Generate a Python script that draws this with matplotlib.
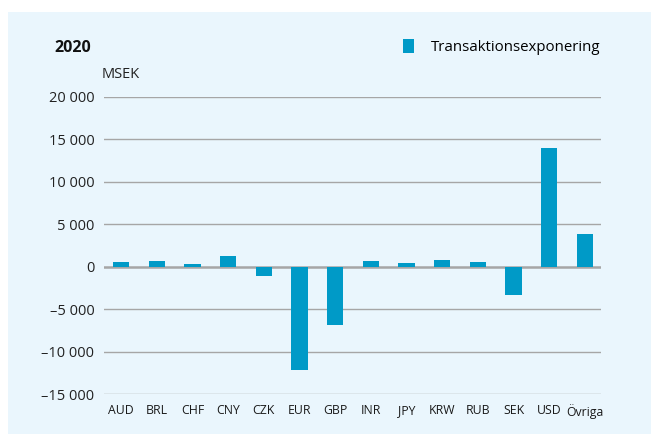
import matplotlib.pyplot as plt
from matplotlib.patches import Rectangle

# Transaktionsexponering per valuta 2020, MSEK
currencies = ['AUD', 'BRL', 'CHF', 'CNY', 'CZK', 'EUR', 'GBP', 'INR', 'JPY',
              'KRW', 'RUB', 'SEK', 'USD', 'Övriga']
exposure = [500, 650, 350, 1300, -1100, -12200, -6900, 650, 400,
            800, 550, -3300, 14000, 3850]
yticks = [-15000, -10000, -5000, 0, 5000, 10000, 15000, 20000]

bar_color = '#009ac7'
panel_color = '#eaf6fd'

plt.rcParams['font.family'] = ['Open Sans', 'DejaVu Sans']

fig = plt.figure(figsize=(6.51, 4.34), dpi=100)
fig.patches.append(Rectangle((8 / 651, 0), 1, 1 - 12 / 434, transform=fig.transFigure,
                             facecolor=panel_color, edgecolor='none', zorder=-10))

ax = fig.add_axes([104 / 651, 1 - 394 / 434, 497 / 651, 297 / 434])
ax.set_facecolor('none')

x = range(len(currencies))
ax.bar(x, exposure, width=0.46, color=bar_color, zorder=3, label='Transaktionsexponering')

ax.set_ylim(-15000, 20000)
ax.set_xlim(-0.48, len(currencies) - 0.55)
ax.set_yticks(yticks)
ax.set_yticklabels([f'{abs(v):,}'.replace(',', ' ') if v >= 0 else '–' + f'{abs(v):,}'.replace(',', ' ')
                    for v in yticks], fontsize=10.5, color='#222222')
ax.set_xticks(list(x))
ax.set_xticklabels(currencies, fontsize=8.8, color='#1a1a1a')
ax.tick_params(length=0)
ax.tick_params(axis='y', pad=7)
ax.tick_params(axis='x', pad=7)

for v in yticks:
    ax.axhline(v, color='#a6a6a6', lw=1.0 if v else 1.8, zorder=1)
for s in ax.spines.values():
    s.set_visible(False)

fig.text(54 / 651, 1 - 48 / 434, '2020', fontsize=11.5, fontweight='bold', va='center', color='#111111')
fig.text(102 / 651, 1 - 75 / 434, 'MSEK', fontsize=10.5, va='center', color='#222222')

ax.legend(loc='center right', bbox_to_anchor=(1.01, 1 + 50 / 297), frameon=False, fontsize=10.8,
          handlelength=0.75, handleheight=1.0, handletextpad=1.1, borderaxespad=0)

fig.savefig('out.png', dpi=100)
